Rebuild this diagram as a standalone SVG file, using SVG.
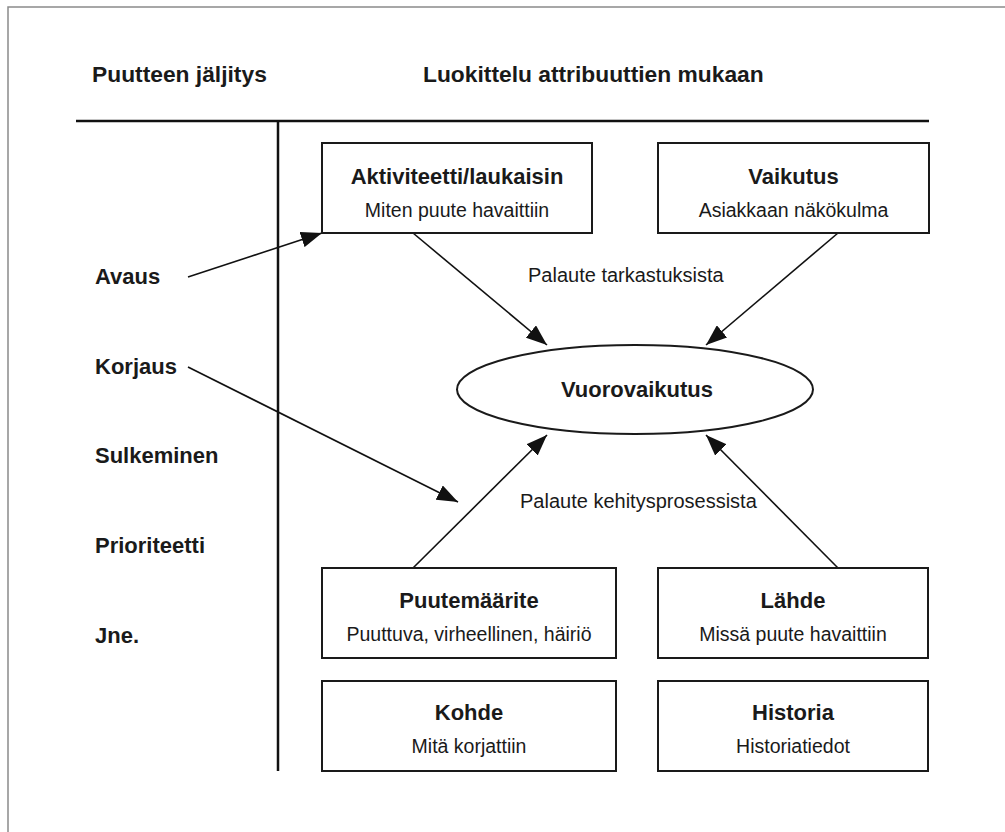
<svg xmlns="http://www.w3.org/2000/svg" width="1005" height="832" viewBox="0 0 1005 832">
  <style>
    .frame { fill: none; stroke: #8a8a8a; stroke-width: 1.5; }
    .rule { stroke: #111; stroke-width: 2.5; fill: none; }
    .box { fill: #fff; stroke: #1a1a1a; stroke-width: 2; }
    .conn { stroke: #111; stroke-width: 1.6; fill: none; }
    .head { font-family: "Liberation Sans", Arial, sans-serif; font-weight: bold; font-size: 22.8px; fill: #1a1a1a; }
    .stage { font-family: "Liberation Sans", Arial, sans-serif; font-weight: bold; font-size: 22px; fill: #1a1a1a; }
    .title { font-family: "Liberation Sans", Arial, sans-serif; font-weight: bold; font-size: 22px; fill: #1a1a1a; text-anchor: middle; }
    .sub { font-family: "Liberation Sans", Arial, sans-serif; font-size: 19.5px; fill: #1a1a1a; text-anchor: middle; }
    .note { font-family: "Liberation Sans", Arial, sans-serif; font-size: 20px; fill: #1a1a1a; }
  </style>
  <defs>
    <marker id="arrow" markerUnits="userSpaceOnUse" markerWidth="22" markerHeight="16" refX="21" refY="8" orient="auto">
      <path d="M0,0 L21,8 L0,16 z" fill="#111"/>
    </marker>
  </defs>

  <rect width="1005" height="832" fill="#fff"/>
  <!-- page frame -->
  <rect class="frame" x="8" y="7" width="1010" height="840"/>

  <!-- column headings and dividing rules -->
  <text class="head" x="92" y="82">Puutteen jäljitys</text>
  <text class="head" x="423" y="82">Luokittelu attribuuttien mukaan</text>
  <line class="rule" x1="76" y1="121" x2="929" y2="121"/>
  <line class="rule" x1="278" y1="121" x2="278" y2="771"/>

  <!-- defect tracking stages -->
  <g id="stages">
    <text class="stage" x="95" y="284">Avaus</text>
    <text class="stage" x="95" y="374">Korjaus</text>
    <text class="stage" x="95" y="463">Sulkeminen</text>
    <text class="stage" x="95" y="553">Prioriteetti</text>
    <text class="stage" x="95" y="643">Jne.</text>
  </g>

  <g id="connectors">
    <line class="conn" x1="188" y1="277" x2="322" y2="233" marker-end="url(#arrow)"/>
    <line class="conn" x1="188" y1="367" x2="458" y2="502" marker-end="url(#arrow)"/>
    <line class="conn" x1="413" y1="233" x2="547" y2="345" marker-end="url(#arrow)"/>
    <line class="conn" x1="838" y1="233" x2="706" y2="345" marker-end="url(#arrow)"/>
    <line class="conn" x1="413" y1="568" x2="547" y2="435" marker-end="url(#arrow)"/>
    <line class="conn" x1="838" y1="568" x2="706" y2="435" marker-end="url(#arrow)"/>
  </g>

  <text class="note" x="528" y="282">Palaute tarkastuksista</text>
  <text class="note" x="520" y="508">Palaute kehitysprosessista</text>

  <g id="aktiviteetti">
    <rect class="box" x="322" y="143" width="270" height="90"/>
    <text class="title" x="457" y="184">Aktiviteetti/laukaisin</text>
    <text class="sub" x="457" y="217">Miten puute havaittiin</text>
  </g>

  <g id="vaikutus">
    <rect class="box" x="658" y="143" width="271" height="90"/>
    <text class="title" x="793.5" y="184">Vaikutus</text>
    <text class="sub" x="793.5" y="217">Asiakkaan näkökulma</text>
  </g>

  <g id="vuorovaikutus">
    <ellipse class="box" cx="635" cy="389.5" rx="178" ry="44.5"/>
    <text class="title" x="637" y="397">Vuorovaikutus</text>
  </g>

  <g id="puutemaarite">
    <rect class="box" x="322" y="568" width="294" height="90"/>
    <text class="title" x="469" y="608">Puutemäärite</text>
    <text class="sub" x="469" y="641">Puuttuva, virheellinen, häiriö</text>
  </g>

  <g id="lahde">
    <rect class="box" x="658" y="568" width="270" height="90"/>
    <text class="title" x="793" y="608">Lähde</text>
    <text class="sub" x="793" y="641">Missä puute havaittiin</text>
  </g>

  <g id="kohde">
    <rect class="box" x="322" y="681" width="294" height="90"/>
    <text class="title" x="469" y="720">Kohde</text>
    <text class="sub" x="469" y="753">Mitä korjattiin</text>
  </g>

  <g id="historia">
    <rect class="box" x="658" y="681" width="270" height="90"/>
    <text class="title" x="793" y="720">Historia</text>
    <text class="sub" x="793" y="753">Historiatiedot</text>
  </g>
</svg>
